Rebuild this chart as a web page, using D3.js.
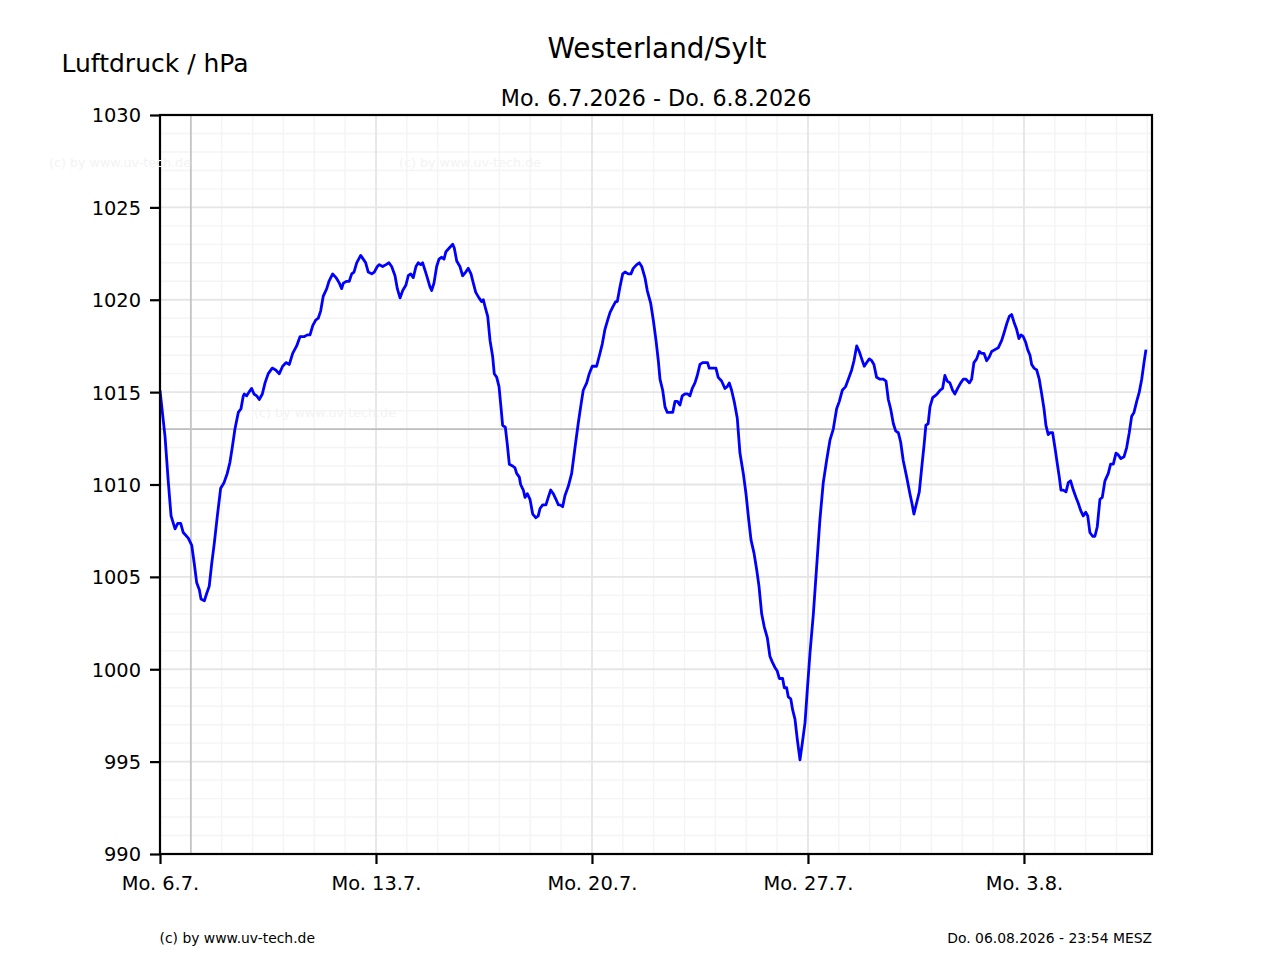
<!DOCTYPE html>
<html>
<head>
<meta charset="utf-8">
<script src="https://cdn.jsdelivr.net/npm/d3@7/dist/d3.min.js"></script>
<style>
  html, body { margin: 0; padding: 0; background: #fff; }
  svg { display: block; font-family: "DejaVu Sans", sans-serif; }
</style>
</head>
<body>
<svg id="chart" width="1280" height="960"></svg>
<script>
// ---------------- data ----------------
const stationName = "Westerland/Sylt";
const periodLabel = "Mo. 6.7.2026 - Do. 6.8.2026";
const yLabel = "Luftdruck / hPa";
const footerLeft = "(c) by www.uv-tech.de";
const footerRight = "Do. 06.08.2026 - 23:54 MESZ";
const watermark = "(c) by  www.uv-tech.de";

const startTime = Date.UTC(2026, 6, 6, 0, 0);
const endTime = Date.UTC(2026, 7, 7, 3, 36);

const xTickDates = [Date.UTC(2026,6,6), Date.UTC(2026,6,13), Date.UTC(2026,6,20), Date.UTC(2026,6,27), Date.UTC(2026,7,3)];
const xTickLabels = ["Mo. 6.7.", "Mo. 13.7.", "Mo. 20.7.", "Mo. 27.7.", "Mo. 3.8."];
const yTicks = [990, 995, 1000, 1005, 1010, 1015, 1020, 1025, 1030];
const yDomain = [990, 1030];
const refPressure = 1013;
const refDate = Date.UTC(2026, 6, 7);

// hours since Mo. 6.7.2026 00:00
const hours = [0,3.9,6.5,8.6,11.7,13.8,16.1,18.1,22.0,24.7,26.7,28.5,30.6,31.9,34.5,36.3,38.3,40.2,42.2,44.6,47.2,49.8,52.3,54.4,56.2,58.3,60.9,63.0,64.8,65.6,67.4,69.2,71.3,73.1,75.2,77.2,79.6,81.7,84.2,87.3,90.0,92.8,95.4,98.0,100.6,103.2,106.3,108.9,112.0,114.6,116.7,118.8,121.1,123.1,125.0,127.0,129.7,131.4,134.3,136.9,139.5,141.3,142.6,145.2,147.2,149.1,150.9,153.0,156.1,158.1,160.0,162.0,164.7,166.7,169.0,170.6,173.2,175.8,178.1,180.2,182.8,184.6,186.7,188.8,191.3,193.1,195.0,197.0,199.1,200.9,202.8,204.3,206.1,207.9,210.0,211.3,213.1,215.2,217.0,219.1,220.9,222.4,225.0,227.7,228.9,230.8,233.3,235.4,237.8,239.8,241.9,243.7,245.6,248.1,250.2,251.5,253.3,254.9,256.7,258.8,260.0,261.9,263.7,265.2,266.5,268.6,270.1,271.7,274.3,276.1,277.4,279.5,280.5,282.6,283.9,285.7,287.8,289.9,292.4,294.2,295.6,297.7,300.2,302.0,303.9,305.9,308.0,309.8,311.1,313.2,315.0,317.6,320.2,322.8,325.3,327.2,329.2,331.9,333.9,336.2,339.6,342.2,344.0,346.1,348.2,350.0,352.1,354.4,355.7,357.8,359.9,361.7,364.2,366.3,368.1,370.8,372.8,374.7,377.2,379.0,381.7,383.7,385.8,387.6,388.9,391.0,392.8,394.6,396.7,398.8,400.6,402.4,404.4,406.2,408.3,410.4,412.2,414.0,416.1,417.9,420.0,422.1,424.6,425.9,427.2,429.8,432.4,434.2,436.8,439.4,441.2,442.8,444.6,446.6,449.0,451.1,453.7,455.8,457.9,459.7,462.0,464.1,465.9,468.0,470.0,472.4,474.4,476.2,478.3,480.1,481.7,484.3,485.6,487.4,488.7,490.6,492.1,493.9,495.7,497.8,499.6,501.7,503.5,505.6,508.2,510.8,513.3,515.9,518.5,521.1,523.7,526.3,528.4,530.7,533.3,535.4,538.0,539.8,541.9,543.9,545.8,547.8,549.7,551.7,553.6,555.3,557.4,560.0,562.6,564.7,566.5,568.3,570.4,572.2,574.3,576.1,578.1,580.8,583.3,585.1,586.4,588.5,590.6,592.6,594.4,595.7,597.5,598.9,601.0,602.8,604.5,606.7,608.7,610.5,612.3,614.4,616.5,618.3,620.4,622.8,624.8,626.9,629.5,631.3,633.1,635.2,637.2,639.1,640.9,643.0,645.0,646.9,649.4,652.0,654.7,656.5,658.6,660.6,662.4,664.2,666.3,668.1,669.7,671.5,673.3,674.9,676.7,678.0,679.8,681.9,683.9,685.8,687.6,689.1,690.9,692.2,694.3,696.1,698.2,699.5,700.8,702.6,704.7,706.5,708.3,710.4,712.5,714.2,716.1,718.1,720.0,721.6,723.3,725.4,727.2,729.0,731.1,732.9,735.0,737.6,739.4,741.5,743.6,745.4,747.4,749.8,751.9,753.9,755.8,757.6,759.7,761.7,763.6,765.4,766.9];

// pressure in hPa
const pressure = [1015.1,1012.6,1010.1,1008.3,1007.6,1007.9,1007.9,1007.4,1007.1,1006.7,1005.7,1004.7,1004.3,1003.8,1003.7,1004.1,1004.5,1005.7,1006.8,1008.3,1009.8,1010.1,1010.6,1011.2,1012.0,1013.0,1013.9,1014.1,1014.8,1014.9,1014.8,1015.0,1015.2,1014.9,1014.8,1014.6,1014.9,1015.5,1016.0,1016.3,1016.2,1016.0,1016.4,1016.6,1016.5,1017.1,1017.5,1018.0,1018.0,1018.1,1018.1,1018.6,1018.9,1019.0,1019.4,1020.2,1020.6,1021.0,1021.4,1021.2,1020.9,1020.6,1020.9,1021.0,1021.0,1021.4,1021.5,1022.0,1022.4,1022.2,1022.0,1021.5,1021.4,1021.5,1021.8,1021.9,1021.8,1021.9,1022.0,1021.8,1021.3,1020.6,1020.1,1020.5,1020.8,1021.3,1021.4,1021.2,1021.8,1022.0,1021.9,1022.0,1021.6,1021.2,1020.7,1020.5,1020.9,1021.8,1022.2,1022.3,1022.2,1022.6,1022.8,1023.0,1022.8,1022.1,1021.8,1021.3,1021.5,1021.7,1021.4,1020.9,1020.4,1020.1,1019.9,1020.0,1019.5,1019.1,1017.8,1016.9,1016.0,1015.8,1015.3,1014.2,1013.2,1013.1,1012.2,1011.1,1011.0,1010.9,1010.6,1010.4,1010.0,1009.7,1009.3,1009.5,1009.2,1008.4,1008.2,1008.3,1008.7,1008.9,1008.9,1009.3,1009.7,1009.5,1009.2,1008.9,1008.9,1008.8,1009.4,1009.9,1010.6,1012.0,1013.3,1014.2,1015.1,1015.5,1016.0,1016.4,1016.4,1017.1,1017.6,1018.4,1018.9,1019.3,1019.6,1019.9,1019.9,1020.7,1021.4,1021.5,1021.4,1021.4,1021.7,1021.9,1022.0,1021.8,1021.2,1020.5,1019.8,1018.9,1017.8,1016.7,1015.7,1015.1,1014.2,1013.9,1013.9,1013.9,1014.5,1014.5,1014.3,1014.8,1014.9,1014.9,1014.8,1015.2,1015.5,1015.9,1016.5,1016.6,1016.6,1016.6,1016.3,1016.3,1016.3,1015.8,1015.6,1015.2,1015.3,1015.5,1015.1,1014.5,1013.6,1011.7,1010.6,1009.5,1008.1,1007.0,1006.3,1005.4,1004.5,1003.0,1002.3,1001.7,1000.7,1000.4,1000.1,999.9,999.5,999.5,999.0,999.0,998.5,998.4,997.8,997.3,996.2,995.1,996.0,997.1,998.9,1000.9,1003.0,1005.6,1008.1,1010.1,1011.3,1012.4,1013.0,1014.1,1014.5,1015.1,1015.3,1015.7,1016.2,1016.7,1017.5,1017.2,1016.8,1016.4,1016.6,1016.8,1016.7,1016.5,1015.8,1015.7,1015.7,1015.6,1014.6,1014.1,1013.3,1012.9,1012.8,1012.3,1011.3,1010.4,1009.5,1008.9,1008.4,1009.0,1009.6,1011.0,1012.2,1013.2,1013.3,1014.2,1014.7,1014.8,1014.9,1015.1,1015.2,1015.9,1015.6,1015.5,1015.1,1014.9,1015.2,1015.5,1015.7,1015.7,1015.5,1015.7,1016.6,1016.8,1017.2,1017.1,1017.1,1016.7,1016.9,1017.2,1017.3,1017.4,1017.8,1018.2,1018.7,1019.1,1019.2,1018.8,1018.4,1017.9,1018.1,1018.0,1017.7,1017.3,1017.0,1016.5,1016.3,1016.2,1015.7,1014.9,1014.1,1013.2,1012.7,1012.8,1012.8,1012.0,1011.0,1010.4,1009.7,1009.7,1009.6,1010.1,1010.2,1009.7,1009.3,1009.0,1008.6,1008.3,1008.5,1008.3,1007.4,1007.2,1007.2,1007.7,1009.2,1009.3,1010.2,1010.6,1011.1,1011.1,1011.7,1011.6,1011.4,1011.5,1012.0,1012.8,1013.7,1013.9,1014.5,1015.0,1015.7,1016.6,1017.3];

// ---------------- chart ----------------
const W = 1280, H = 960;
const margin = { left: 160, right: 128, top: 115, bottom: 106 };
const plotW = W - margin.left - margin.right;   // 992
const plotH = H - margin.top - margin.bottom;   // 739

const svg = d3.select("#chart");
const x = d3.scaleUtc().domain([new Date(startTime), new Date(endTime)]).range([0, plotW]);
const y = d3.scaleLinear().domain(yDomain).range([plotH, 0]);

const g = svg.append("g").attr("transform", `translate(${margin.left},${margin.top})`);

// watermarks (figure coordinates)
const wm = svg.append("g").attr("fill", "#f3f3f3").attr("font-size", "12.7px");
wm.append("text").attr("x", 49).attr("y", 167).text(watermark);
wm.append("text").attr("x", 399).attr("y", 167).text(watermark);
wm.append("text").attr("x", 254).attr("y", 417).text(watermark);

// minor grid
const days = d3.utcDay.range(new Date(startTime), new Date(endTime));
g.append("g").selectAll("line").data(days).join("line")
  .attr("x1", d => x(d)).attr("x2", d => x(d)).attr("y1", 0).attr("y2", plotH)
  .attr("stroke", "#f4f4f4").attr("stroke-width", 1.4);
const minorY = d3.range(yDomain[0], yDomain[1] + 1, 1);
g.append("g").selectAll("line").data(minorY).join("line")
  .attr("x1", 0).attr("x2", plotW).attr("y1", d => y(d)).attr("y2", d => y(d))
  .attr("stroke", "#f4f4f4").attr("stroke-width", 1.4);

// major grid
g.append("g").selectAll("line").data(xTickDates).join("line")
  .attr("x1", d => x(new Date(d))).attr("x2", d => x(new Date(d))).attr("y1", 0).attr("y2", plotH)
  .attr("stroke", "#e6e6e6").attr("stroke-width", 1.8);
g.append("g").selectAll("line").data(yTicks).join("line")
  .attr("x1", 0).attr("x2", plotW).attr("y1", d => y(d)).attr("y2", d => y(d))
  .attr("stroke", "#e6e6e6").attr("stroke-width", 1.8);

// reference lines
g.append("line")
  .attr("x1", 0).attr("x2", plotW).attr("y1", y(refPressure)).attr("y2", y(refPressure))
  .attr("stroke", "#bdbdbd").attr("stroke-width", 1.8);
g.append("line")
  .attr("x1", x(new Date(refDate))).attr("x2", x(new Date(refDate))).attr("y1", 0).attr("y2", plotH)
  .attr("stroke", "#c4c4c4").attr("stroke-width", 1.8);

// data line
svg.append("defs").append("clipPath").attr("id", "clip")
  .append("rect").attr("width", plotW).attr("height", plotH);
const pts = hours.map((h, i) => ({ t: new Date(startTime + h * 3600e3), v: pressure[i] }));
const line = d3.line().x(d => x(d.t)).y(d => y(d.v));
g.append("path").datum(pts)
  .attr("clip-path", "url(#clip)")
  .attr("d", line)
  .attr("fill", "none").attr("stroke", "#0000ff").attr("stroke-width", 2.8)
  .attr("stroke-linejoin", "round").attr("stroke-linecap", "butt");

// frame
g.append("rect").attr("width", plotW).attr("height", plotH)
  .attr("fill", "none").attr("stroke", "#000").attr("stroke-width", 2.2);

// axes
const xAxis = d3.axisBottom(x)
  .tickValues(xTickDates.map(d => new Date(d)))
  .tickFormat((d, i) => xTickLabels[i])
  .tickSizeInner(10).tickSizeOuter(0).tickPadding(9);
const gx = g.append("g").attr("transform", `translate(0,${plotH})`).call(xAxis);
gx.select(".domain").remove();
gx.selectAll(".tick line").attr("stroke", "#000").attr("stroke-width", 2.2);
gx.selectAll(".tick text").attr("font-size", "19.4px").attr("font-family", "DejaVu Sans").attr("fill", "#000")
  .attr("dy", null).attr("y", 36);

const yAxis = d3.axisLeft(y).tickValues(yTicks).tickFormat(d3.format("d"))
  .tickSizeInner(10).tickSizeOuter(0).tickPadding(9);
const gy = g.append("g").call(yAxis);
gy.select(".domain").remove();
gy.selectAll(".tick line").attr("stroke", "#000").attr("stroke-width", 2.2);
gy.selectAll(".tick text").attr("font-size", "19.4px").attr("font-family", "DejaVu Sans").attr("fill", "#000")
  .attr("dy", "0.36em");

// titles
svg.append("text").attr("x", 657).attr("y", 58).attr("text-anchor", "middle")
  .attr("font-size", "27.8px").text(stationName);
svg.append("text").attr("x", 656).attr("y", 106).attr("text-anchor", "middle")
  .attr("font-size", "22.2px").text(periodLabel);
svg.append("text").attr("x", 61.5).attr("y", 72).attr("font-size", "25px").text(yLabel);

// footer
svg.append("text").attr("x", 159.5).attr("y", 943).attr("font-size", "13.9px").text(footerLeft);
svg.append("text").attr("x", 1152).attr("y", 943).attr("text-anchor", "end")
  .attr("font-size", "13.9px").text(footerRight);
</script>
</body>
</html>
